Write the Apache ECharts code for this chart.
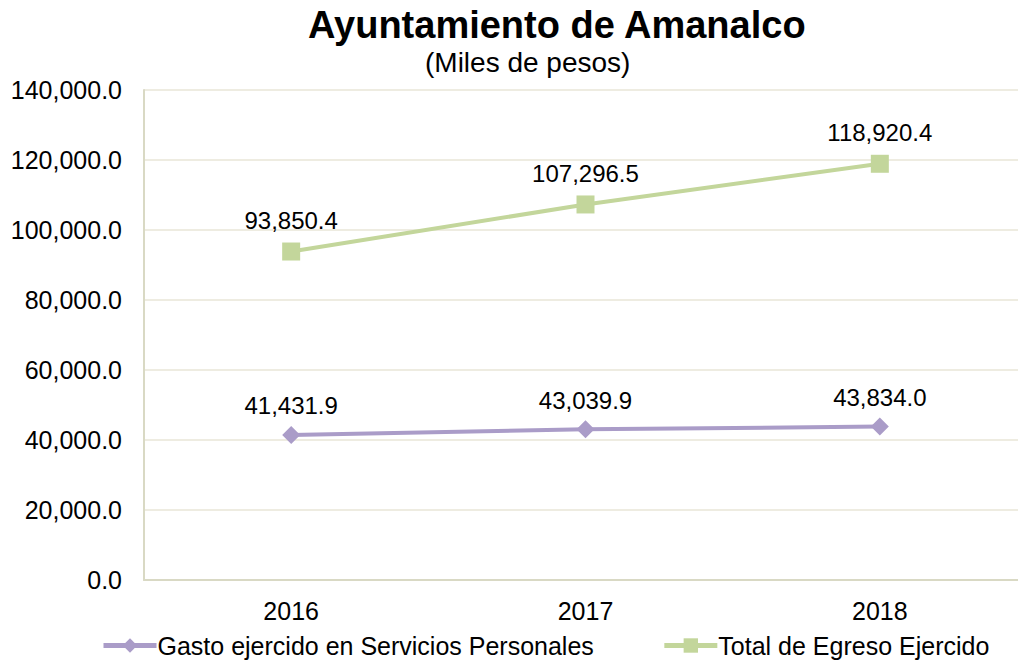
<!DOCTYPE html>
<html>
<head>
<meta charset="utf-8">
<script src="https://cdn.jsdelivr.net/npm/echarts@6/dist/echarts.min.js"></script>
<style>
  html, body { margin: 0; padding: 0; background: #fff; overflow: hidden; }
  #chart { width: 1027px; height: 660px; }
</style>
</head>
<body>
<div id="chart"></div>
<script>
// --- data ---
var years = ['2016', '2017', '2018'];
var gastoServicios = [41431.9, 43039.9, 43834.0];
var totalEgreso = [93850.4, 107296.5, 118920.4];
var seriesNames = ['Gasto ejercido en Servicios Personales', 'Total de Egreso Ejercido'];

var font = '"Liberation Sans", Arial, sans-serif';
function fmt(v) {
  return Number(v).toLocaleString('en-US', { minimumFractionDigits: 1, maximumFractionDigits: 1 });
}

// plot area runs slightly past the right edge of the window, as in the original
var chart = echarts.init(document.getElementById('chart'), null, { renderer: 'svg' });
chart.setOption({
  animation: false,
  backgroundColor: '#fff',
  textStyle: { fontFamily: font, color: '#000' },
  title: [
    { text: 'Ayuntamiento de Amanalco', left: 303, top: 1,
      textStyle: { fontFamily: font, fontSize: 38, fontWeight: 'bold', color: '#000' } },
    { text: '(Miles de pesos)', left: 420, top: 43,
      textStyle: { fontFamily: font, fontSize: 28, fontWeight: 'normal', color: '#000' } }
  ],
  legend: {
    left: 96, top: 628,
    itemWidth: 53, itemHeight: 18, itemGap: 68,
    lineStyle: { width: 5 },
    textStyle: { fontFamily: font, fontSize: 25, color: '#000', padding: [0, 0, 0, -4] },
    data: seriesNames
  },
  grid: { left: 144, top: 90, right: 0, height: 490, containLabel: false },
  xAxis: {
    type: 'category', data: years, boundaryGap: true,
    axisLine: { lineStyle: { color: '#D9D9C4', width: 2 } },
    axisTick: { show: false },
    axisLabel: { color: '#000', fontSize: 25, margin: 18, fontFamily: font }
  },
  yAxis: {
    type: 'value', min: 0, max: 140000, interval: 20000,
    axisLine: { show: true, lineStyle: { color: '#D9D9C4', width: 2 } },
    axisTick: { show: false },
    axisLabel: { color: '#000', fontSize: 25, margin: 22, fontFamily: font, formatter: fmt },
    splitLine: { lineStyle: { color: '#EEECE1', width: 2 } }
  },
  series: [
    {
      name: seriesNames[0], type: 'line', data: gastoServicios,
      symbol: 'diamond', symbolSize: 18,
      lineStyle: { color: '#AA9CC8', width: 4 },
      itemStyle: { color: '#AA9CC8' },
      label: { show: true, position: 'top', distance: 8, fontSize: 24, color: '#000', fontFamily: font,
        formatter: function (p) { return fmt(p.value); } }
    },
    {
      name: seriesNames[1], type: 'line', data: totalEgreso,
      symbol: 'rect', symbolSize: 18,
      lineStyle: { color: '#C3D69B', width: 4 },
      itemStyle: { color: '#C3D69B' },
      label: { show: true, position: 'top', distance: 10, fontSize: 24, color: '#000', fontFamily: font,
        formatter: function (p) { return fmt(p.value); } }
    }
  ]
});
window.addEventListener('resize', function () { chart.resize(); });
</script>
</body>
</html>
